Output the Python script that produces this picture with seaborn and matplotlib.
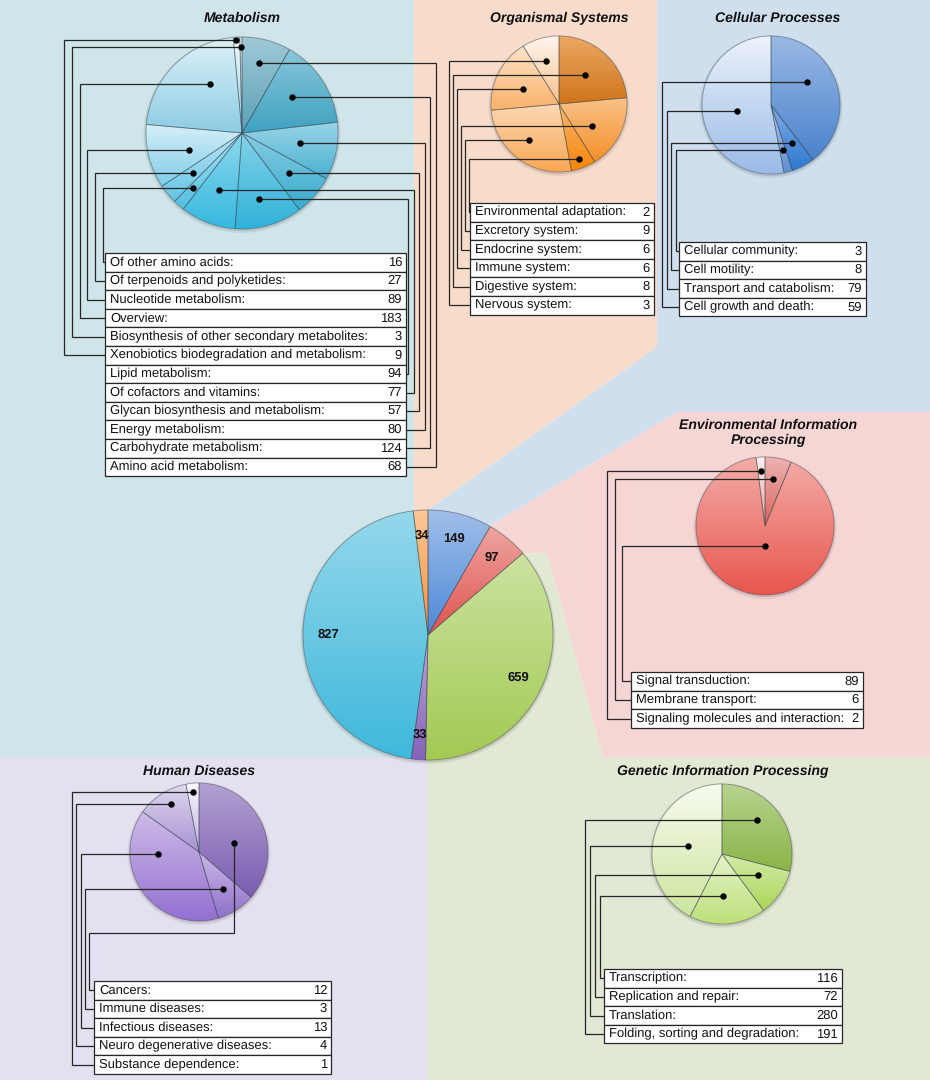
import colorsys
import matplotlib
matplotlib.use('Agg')
import matplotlib.pyplot as plt
import matplotlib.colors as mcolors
from matplotlib.patches import Polygon, Rectangle, Circle
import numpy as np
import seaborn as sns

W, H = 930, 1080

# ---- data ----
main_labels = ['Cellular Processes', 'Environmental Information Processing',
               'Genetic Information Processing', 'Human Diseases',
               'Metabolism', 'Organismal Systems']
main_values = [149, 97, 659, 33, 827, 34]

met_labels = ['Of other amino acids:', 'Of terpenoids and polyketides:',
              'Nucleotide metabolism:', 'Overview:',
              'Biosynthesis of other secondary metabolites:',
              'Xenobiotics biodegradation and metabolism:', 'Lipid metabolism:',
              'Of cofactors and vitamins:', 'Glycan biosynthesis and metabolism:',
              'Energy metabolism:', 'Carbohydrate metabolism:',
              'Amino acid metabolism:']
met_values = [16, 27, 89, 183, 3, 9, 94, 77, 57, 80, 124, 68]
met_order = [11, 10, 9, 8, 6, 7, 0, 1, 2, 3, 5, 4]   # slice order, clockwise

org_labels = ['Environmental adaptation:', 'Excretory system:', 'Endocrine system:',
              'Immune system:', 'Digestive system:', 'Nervous system:']
org_values = [2, 9, 6, 6, 8, 3]
org_order = [4, 2, 0, 1, 3, 5]

cel_labels = ['Cellular community:', 'Cell motility:', 'Transport and catabolism:',
              'Cell growth and death:']
cel_values = [3, 8, 79, 59]
cel_order = [3, 1, 0, 2]

env_labels = ['Signal transduction:', 'Membrane transport:',
              'Signaling molecules and interaction:']
env_values = [89, 6, 2]
env_order = [1, 0, 2]

hum_labels = ['Cancers:', 'Immune diseases:', 'Infectious diseases:',
              'Neuro degenerative diseases:', 'Substance dependence:']
hum_values = [12, 3, 13, 4, 1]
hum_order = [0, 1, 2, 3, 4]

gen_labels = ['Transcription:', 'Replication and repair:', 'Translation:',
              'Folding, sorting and degradation:']
gen_values = [116, 72, 280, 191]
gen_order = [3, 1, 0, 2]

# ---- style ----
sns.set_style('white')
plt.rcParams['font.family'] = ['Liberation Sans', 'DejaVu Sans']
plt.rcParams['text.hinting'] = 'no_hinting'
plt.rcParams['text.hinting_factor'] = 1
FS = 9.55
LINE = '#262626'

main_colors = ['#7fa9e2', '#e8847f', '#bcd882', '#a68ccc', '#72cbe5', '#f9b171']
met_colors = ['#84b9c9', '#6cb8d0', '#79c6de', '#68bfda', '#62c5e2', '#6acbe7',
              '#88d3ea', '#98d8ee', '#b3e1f2', '#bde2ef', '#cde9f3', '#d5edf5']
org_colors = ['#e7933f', '#f7ae62', '#f8a244', '#fbc48c', '#fcd0a4', '#fde0c6']
cel_colors = ['#7aa3da', '#5e98dc', '#8fb0e0', '#cbdcf3']
env_colors = ['#e49490', '#ef8a84', '#f6cfcd']
hum_colors = ['#9c86c4', '#b39ddb', '#b69ddf', '#c9bce3', '#e2daf0']
gen_colors = ['#a6c773', '#c4e28a', '#d5ebaa', '#e6f2cf']


def fy(y):
    return H - y


def shade(c, dl):
    r, g, b = mcolors.to_rgb(c)
    h, l, s = colorsys.rgb_to_hls(r, g, b)
    l = min(max(l + dl, 0), 1)
    return colorsys.hls_to_rgb(h, l, s)


def draw_pie(ax, values, colors, cx, cy, r, **kw):
    ax.add_patch(Circle((cx, fy(cy) - 1.5), r + 2.5, color='k', alpha=0.06, lw=0, zorder=1.1))
    ax.add_patch(Circle((cx, fy(cy) - 1), r + 1.2, color='k', alpha=0.10, lw=0, zorder=1.2))
    res = ax.pie(values, colors=colors, center=(cx, fy(cy)), radius=r,
                 startangle=90, counterclock=False, frame=True,
                 wedgeprops=dict(linewidth=0.6, edgecolor=(0.15, 0.2, 0.25, 0.4)), **kw)
    wedges = res[0]
    for w, c in zip(wedges, colors):
        v = w.get_path().vertices
        x0, x1 = v[:, 0].min(), v[:, 0].max()
        y0, y1 = v[:, 1].min(), v[:, 1].max()
        top, bot = np.array(shade(c, 0.08)), np.array(shade(c, -0.12))
        t = np.linspace(0, 1, 200)[:, None]
        img = (bot + (top - bot) * t)[:, None, :]
        im = ax.imshow(img, extent=[x0, x1, y0, y1], origin='lower', aspect='auto',
                       interpolation='bilinear', zorder=1.5)
        im.set_clip_path(w)
        w.set_facecolor('none')
        w.set_zorder(2)
    return res


fig = plt.figure(figsize=(W / 100, H / 100), dpi=100)
ax = fig.add_axes([0, 0, 1, 1])
ax.set_axis_off()

# ---- background regions ----
regions = [
    ('#cfe5e9', [(0, 0), (414, 0), (414, 510), (428, 510), (428, 757), (0, 757)]),
    ('#f7dccb', [(414, 0), (657, 0), (657, 347), (428, 510), (414, 510)]),
    ('#cfdfee', [(657, 0), (930, 0), (930, 412), (677, 412), (490, 526), (428, 510), (657, 347)]),
    ('#f5d6d5', [(677, 412), (930, 412), (930, 757), (603, 757), (547, 554), (522, 553), (490, 526)]),
    ('#e1e8d4', [(522, 553), (547, 554), (603, 757), (930, 757), (930, 1080), (427, 1080), (427, 635)]),
    ('#e5e0ef', [(0, 757), (427, 757), (427, 1080), (0, 1080)]),
]
for col, pts in regions:
    ax.add_patch(Polygon([(x, fy(y)) for x, y in pts], closed=True, facecolor=col,
                         edgecolor='none', zorder=0))

# ---- main pie ----
tot = sum(main_values)
_, texts, autos = draw_pie(ax, main_values, main_colors, 428, 635, 125,
                           autopct=lambda p: '%d' % round(p * tot / 100), pctdistance=0.8)
for t in autos:
    t.set_fontsize(9.6)
    t.set_fontweight('bold')
    t.set_color('#111111')
    t.set_zorder(3)

# ---- sub pies ----
panels = [
    dict(title='Metabolism', tpos=(242, 18), labels=met_labels, values=met_values,
         order=met_order, colors=met_colors, c=(242, 133), r=96,
         anchors=[(0.46, 0.75), (0.46, 0.64), (0.47, 0.61), (0.5, 0.64), (0.55, 0.71),
                  (0.53, 0.64), (0.58, 0.77), (0.53, 0.66), (0.4, 0.58), (0.65, 0.61),
                  (0.4, 0.97), (0.5, 0.9)],
         table=(105, 406, 253), sides='LLLLLLRRRRRR', gl=2, sl=7.8, gr=2, sr=5.6),
    dict(title='Organismal Systems', tpos=(559, 18), labels=org_labels, values=org_values,
         order=org_order, colors=org_colors, c=(559, 104), r=68,
         anchors=[(0.5, 0.57), (0.61, 0.58), (0.55, 0.86), (0.53, 0.69), (0.44, 0.57), (0.46, 0.66)],
         table=(470, 654, 203), sides='LLLLLL', gl=1.5, sl=4),
    dict(title='Cellular Processes', tpos=(778, 18), labels=cel_labels, values=cel_values,
         order=cel_order, colors=cel_colors, c=(771, 105), r=69,
         anchors=[(0.4, 0.62), (0.45, 0.62), (0.4, 0.68), (0.48, 0.5)],
         table=(679, 866, 242), sides='LLLL', gl=3, sl=4.7),
    dict(title='Environmental Information\nProcessing', tpos=(768, 433), labels=env_labels,
         values=env_values, order=env_order, colors=env_colors, c=(765, 526), r=69,
         anchors=[(0.44, 0.69), (0.48, 0.29), (0.45, 0.8)],
         table=(631, 863, 672), sides='LLL', gl=9, sl=7.5),
    dict(title='Human Diseases', tpos=(199, 771), labels=hum_labels, values=hum_values,
         order=hum_order, colors=hum_colors, c=(199, 852), r=69,
         anchors=[(0.58, 0.52), (0.5, 0.63), (0.73, 0.6), (0.56, 0.8), (0.5, 0.87)],
         table=(94, 331, 981), sides='LLLLL', gl=5, sl=4.2, drop={0: 933}),
    dict(title='Genetic Information Processing', tpos=(723, 771), labels=gen_labels,
         values=gen_values, order=gen_order, colors=gen_colors, c=(722, 854), r=70,
         anchors=[(0.44, 0.7), (0.41, 0.6), (0.55, 0.6), (0.5, 0.5)],
         table=(604, 842, 969), sides='LLLL', gl=4, sl=5),
]

RH = 18.6
for p in panels:
    cx, cy = p['c']
    vals = [p['values'][i] for i in p['order']]
    wedges = draw_pie(ax, vals, p['colors'], cx, cy, p['r'])[0]
    ax.text(p['tpos'][0], fy(p['tpos'][1]), p['title'], ha='center', va='center',
            fontsize=9.8, fontweight='bold', fontstyle='italic', color='#111111',
            linespacing=1.25, zorder=6)

    # anchor dot for each slice
    dots = {}
    for k, (idx, w) in enumerate(zip(p['order'], wedges)):
        fa, fr = p['anchors'][k]
        ang = np.deg2rad(w.theta2 - fa * (w.theta2 - w.theta1))
        dots[idx] = (cx + fr * p['r'] * np.cos(ang), fy(cy) + fr * p['r'] * np.sin(ang))

    x0, x1, top = p['table']
    kl = kr = 0
    for i, (lab, val) in enumerate(zip(p['labels'], p['values'])):
        ry = top + i * RH
        ax.add_patch(Rectangle((x0, fy(ry + RH)), x1 - x0, RH, facecolor='white',
                               edgecolor=LINE, lw=0.9, zorder=5))
        ax.text(x0 + 5, fy(ry + RH / 2), lab, ha='left', va='center', fontsize=FS,
                color='#111111', zorder=6)
        ax.text(x1 - 4, fy(ry + RH / 2), str(val), ha='right', va='center', fontsize=FS,
                color='#111111', zorder=6)

        yc = fy(ry + RH / 2)
        if p['sides'][i] == 'L':
            colx, edge = x0 - p['gl'] - kl * p['sl'], x0
            kl += 1
        else:
            colx, edge = x1 + p['gr'] + kr * p['sr'], x1
            kr += 1
        dx, dy = dots[i]
        if 'drop' in p and i in p['drop']:
            yd = fy(p['drop'][i])
            xs = [dx, dx, colx, colx, edge]
            ys = [dy, yd, yd, yc, yc]
        else:
            xs = [dx, colx, colx, edge]
            ys = [dy, dy, yc, yc]
        ax.plot(xs, ys, color=LINE, lw=0.9, solid_joinstyle='miter', zorder=4)
        ax.plot([dx], [dy], 'o', color='black', ms=3.6, zorder=4.5)

ax.set_xlim(0, W)
ax.set_ylim(0, H)
ax.set_aspect('auto')
fig.savefig('out.png', dpi=100)
plt.close(fig)
